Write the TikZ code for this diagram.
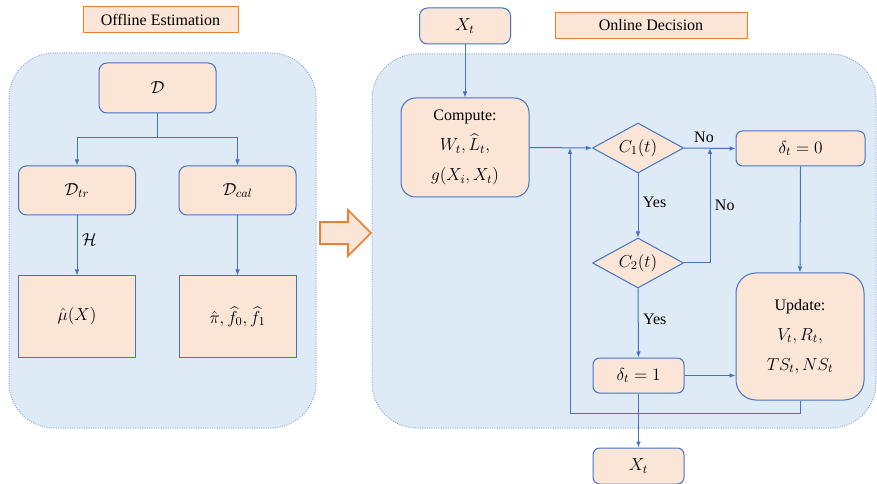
\RequirePackage{fix-cm}
\documentclass[tikz,border=0pt]{standalone}
\usepackage{fontspec}
\setmainfont{Liberation Serif}
\usepackage{amsmath}
\usetikzlibrary{shapes.geometric,arrows.meta}

\definecolor{boxfill}{HTML}{FBE5D6}
\definecolor{boxline}{HTML}{4472C4}
\definecolor{panelfill}{HTML}{DEEBF7}
\definecolor{panelline}{HTML}{8FAADC}
\definecolor{titleline}{HTML}{ED7D31}

\tikzset{every picture/.style={line width=0.75pt}}

\begin{document}
\begin{tikzpicture}[x=0.75pt,y=0.75pt,yscale=-1,xscale=1,
    font=\fontsize{12}{14}\selectfont,
    panel/.style={draw=panelline, fill=panelfill, densely dotted, rounded corners=34pt},
    titlebox/.style={draw=titleline, fill=boxfill, minimum width=#1, minimum height=19.5pt, inner sep=1pt},
    rbox/.style={draw=boxline, fill=boxfill, rounded corners=6pt, inner sep=2pt, font=\fontsize{13}{15}\selectfont},
    sbox/.style={draw=boxline, fill=boxfill, inner sep=2pt, minimum width=87.75pt, minimum height=60.75pt, font=\fontsize{13}{15}\selectfont},
    cond/.style={draw=boxline, fill=boxfill, diamond, aspect=2, inner sep=0pt, minimum width=68.25pt, minimum height=37.5pt, font=\fontsize{13}{15}\selectfont},
    arr/.style={draw=boxline, -{Latex[length=4.5pt,width=3.5pt]}},
    conn/.style={draw=boxline},
    lbl/.style={font=\fontsize{12}{14}\selectfont}]
    \useasboundingbox (0,0) rectangle (877,484);

    %Panels
    \draw [panel] (9,53) rectangle (316,428);
    \draw [panel] (372,54) rectangle (876,428);

    %Titles
    \node [titlebox=116.25pt] (offtitle) at (160.5,20) {Offline Estimation};
    \node [titlebox=144pt] (ontitle) at (651,25.5) {Online Decision};

    %Offline part
    \node [rbox, minimum width=87.75pt, minimum height=37.5pt] (data) at (157.5,88) {$\mathcal{D}$};
    \node [rbox, minimum width=87.75pt, minimum height=36.75pt] (dtr) at (77,190.5) {$\mathcal{D}_{tr}$};
    \node [rbox, minimum width=87.75pt, minimum height=36.75pt] (dcal) at (237.5,190.5) {$\mathcal{D}_{cal}$};
    \node [sbox] (muhat) at (77,316.5) {$\hat{\mu}(X)$};
    \node [sbox] (nuis) at (237.5,316.5) {$\hat{\pi},\widehat{f}_0,\widehat{f}_1$};
    \coordinate (split) at (157.5,138);

    \draw [conn] (data.south) -- (split);
    \draw [arr] (split) -| (dtr.north);
    \draw [arr] (split) -| (dcal.north);
    \draw [arr] (dtr.south) -- node [right, pos=0.4, font=\fontsize{13}{15}\selectfont] {$\mathcal{H}$} (muhat.north);
    \draw [arr] (dcal.south) -- (nuis.north);

    %Shape: Right Arrow
    \draw [draw=titleline, fill=boxfill, line width=1.2pt, line join=miter] (320,222) -- (348,222) -- (348,210) -- (371,233) -- (348,256) -- (348,244) -- (320,244) -- cycle;

    %Online part
    \node [rbox, minimum width=68.25pt, minimum height=27pt] (xin) at (465,26) {$X_t$};
    \node [rbox, rounded corners=11pt, minimum width=96pt, minimum height=74.25pt, align=center, font=\fontsize{13}{22.5}\selectfont] (comp) at (465,147.5) {{\fontsize{12}{14}\selectfont Compute:}\\$W_t,\widehat{L}_t,$\\$g(X_i,X_t)$};
    \node [cond] (cone) at (638,148) {$C_1(t)$};
    \node [cond] (ctwo) at (638,263) {$C_2(t)$};
    \node [rbox, rounded corners=5pt, minimum width=96.75pt, minimum height=26.25pt] (dzero) at (800.5,148.5) {$\delta_t=0$};
    \node [rbox, rounded corners=5pt, minimum width=68.25pt, minimum height=26.25pt] (done) at (638.5,375.5) {$\delta_t=1$};
    \node [rbox, rounded corners=15pt, minimum width=96pt, minimum height=95.25pt, align=center, font=\fontsize{13}{22.5}\selectfont] (upd) at (800,336.5) {{\fontsize{12}{14}\selectfont Update:}\\$V_t,R_t,$\\$TS_t,NS_t$};
    \node [rbox, rounded corners=5pt, minimum width=68.25pt, minimum height=27pt] (xout) at (638.5,466) {$X_t$};
    \coordinate (back) at (570,148);
    \coordinate (nojoin) at (710,148);

    \draw [arr] (xin.south) -- (comp.north);
    \draw [arr] (comp.east) -- (cone.west);
    \draw [arr] (cone.east) -- (dzero.west);
    \node [lbl] (noone) at (704,137) {No};
    \draw [arr] (cone.south) -- node [right, pos=0.45] {Yes} (ctwo.north);
    \draw [arr] (ctwo.east) -| node [right, pos=0.75] {No} (nojoin);
    \draw [arr] (ctwo.south) -- node [right, pos=0.45] {Yes} (done.north);
    \draw [arr] (done.east) -- (done.east -| upd.west);
    \draw [arr] (dzero.south) -- (upd.north);
    \draw [arr] (upd.south) -- ++(0,13) -| (back);
    \draw [arr] (done.south) -- (xout.north);

  \end{tikzpicture}
\end{document}
